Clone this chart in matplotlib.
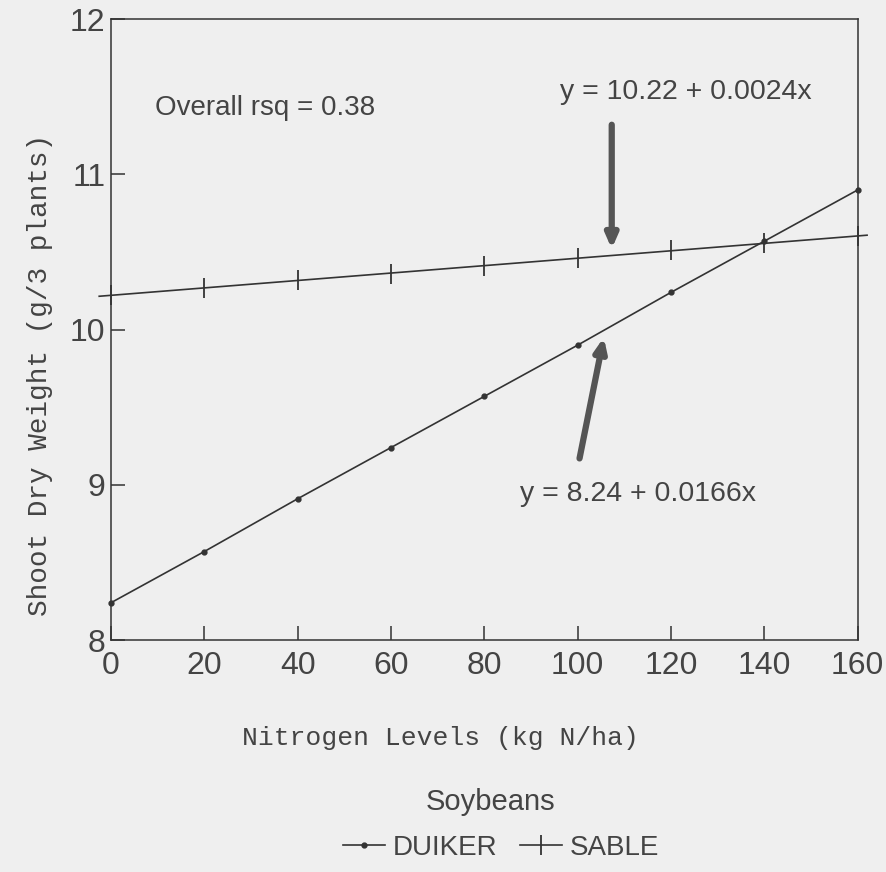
import numpy as np
import matplotlib
matplotlib.use('Agg')
import matplotlib.pyplot as plt
from matplotlib.lines import Line2D

# nitrogen levels (kg N/ha) and shoot dry weight (g/3 plants)
nitrogen = [0, 20, 40, 60, 80, 100, 120, 140, 160]
duiker = [8.24, 8.57, 8.91, 9.24, 9.57, 9.90, 10.24, 10.57, 10.90]
sable = [10.22, 10.27, 10.32, 10.36, 10.41, 10.46, 10.51, 10.56, 10.60]

x_ticks = [0, 20, 40, 60, 80, 100, 120, 140, 160]
y_ticks = [8, 9, 10, 11, 12]

narrow = ['Liberation Sans', 'DejaVu Sans']
mono = ['Liberation Mono', 'DejaVu Sans Mono']
ink = '#333333'
txt = '#444444'
bg = '#efefef'

fig = plt.figure(figsize=(8.87, 8.72), dpi=100, facecolor=bg)
ax = fig.add_axes([0.125, 0.266, 0.842, 0.712])
ax.set_facecolor(bg)

ax.plot(nitrogen, duiker, '-', color=ink, lw=1.2, marker='o', ms=3.5,
        zorder=3, clip_on=False)

# sable line runs a little past both axes in the original
coef = np.polyfit(nitrogen, sable, 1)
ext = np.array([nitrogen[0] - 2.5, nitrogen[-1] + 2])
ax.plot(ext, np.polyval(coef, ext), '-', color=ink, lw=1.2, clip_on=False)
ax.plot(nitrogen, sable, ls='none', color=ink, marker='|', ms=14, mew=1.3,
        clip_on=False)

ax.set_xlim(0, 160)
ax.set_ylim(8, 12)
ax.set_xticks(x_ticks)
ax.set_yticks(y_ticks)
ax.tick_params(direction='in', length=10, width=1.1, color=ink,
               top=False, right=False, labelsize=23, labelcolor=txt)
ax.tick_params(axis='x', pad=8)
ax.tick_params(axis='y', pad=4)
for lab in ax.get_xticklabels() + ax.get_yticklabels():
    lab.set_family(narrow)
for s in ax.spines.values():
    s.set_color(ink)
    s.set_linewidth(1.1)

ax.text(9.4, 11.43, 'Overall rsq = 0.38', fontsize=20, family=narrow,
        color=txt, va='center')
ax.text(96.2, 11.53, 'y = 10.22 + 0.0024x', fontsize=20.5, family=narrow,
        color=txt, va='center')
ax.text(87.6, 8.94, 'y = 8.24 + 0.0166x', fontsize=20.5, family=narrow,
        color=txt, va='center')

arrow = dict(arrowstyle='-|>,head_length=0.8,head_width=0.35', color='#555555',
             lw=4.5, shrinkA=0, shrinkB=0)
ax.annotate('', xy=(107.3, 10.52), xytext=(107.3, 11.32), arrowprops=arrow)
ax.annotate('', xy=(105.6, 9.95), xytext=(100.4, 9.17), arrowprops=arrow)

fig.text(0.045, 0.57, 'Shoot Dry Weight (g/3 plants)', rotation=90,
         fontsize=20, family=mono, color=txt, ha='center', va='center')
fig.text(0.496, 0.154, 'Nitrogen Levels (kg N/ha)', fontsize=19, family=mono,
         color=txt, ha='center', va='center')
fig.text(0.553, 0.080, 'Soybeans', fontsize=21, family=narrow,
         color=txt, ha='center', va='center')

handles = [Line2D([], [], color=ink, lw=1.2, marker='o', ms=3.5),
           Line2D([], [], color=ink, lw=1.2, marker='|', ms=14, mew=1.3)]
leg = fig.legend(handles, ['DUIKER', 'SABLE'], loc='center',
                 bbox_to_anchor=(0.565, 0.028), ncol=2, frameon=False,
                 prop={'family': narrow, 'size': 20}, handlelength=1.5,
                 handletextpad=0.3, columnspacing=0.8, labelcolor=txt)

fig.savefig('out.png', dpi=100, facecolor=bg)
